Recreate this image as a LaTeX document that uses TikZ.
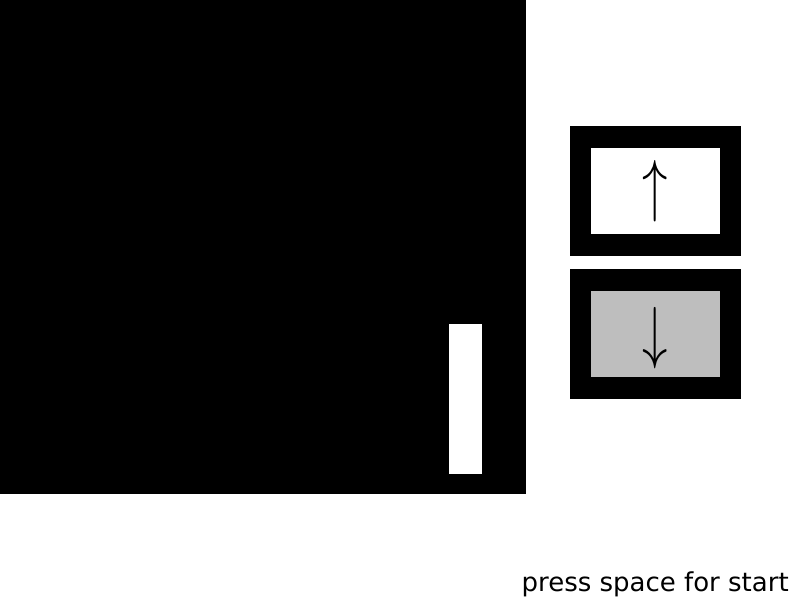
\documentclass[tikz,border=0pt]{standalone}
\usepackage{fontspec}
\usepackage{graphicx}
\newfontfamily\uifont{DejaVu Sans}
\definecolor{btngray}{RGB}{190,190,190}
\begin{document}
\begin{tikzpicture}[x=0.75pt,y=-0.75pt,
  field/.style={fill=black,draw=none},
  paddle/.style={fill=white,draw=none},
  btnframe/.style={fill=black,draw=none},
  arrowglyph/.style={inner sep=0pt}]
\useasboundingbox[fill=white] (0,0) rectangle (800,600);
% playing field
\path[field] (0,0) rectangle (526,494);
\path[paddle] (449,324) rectangle (482,474);
% up button
\path[btnframe] (570,126) rectangle (741,256);
\path[fill=white] (591,148) rectangle (720,234);
\node[arrowglyph] (up) at (655,191) {\scalebox{3.8}[5.2]{$\uparrow$}};
% down button
\path[btnframe] (570,269) rectangle (741,399);
\path[fill=btngray] (591,291) rectangle (720,377);
\node[arrowglyph] (down) at (655,338) {\scalebox{3.8}[5.2]{$\downarrow$}};
% caption
\node[anchor=base east,inner sep=0pt,font=\uifont\fontsize{19.5}{20}\selectfont] (msg) at (789,591) {press space for start};
\end{tikzpicture}
\end{document}
